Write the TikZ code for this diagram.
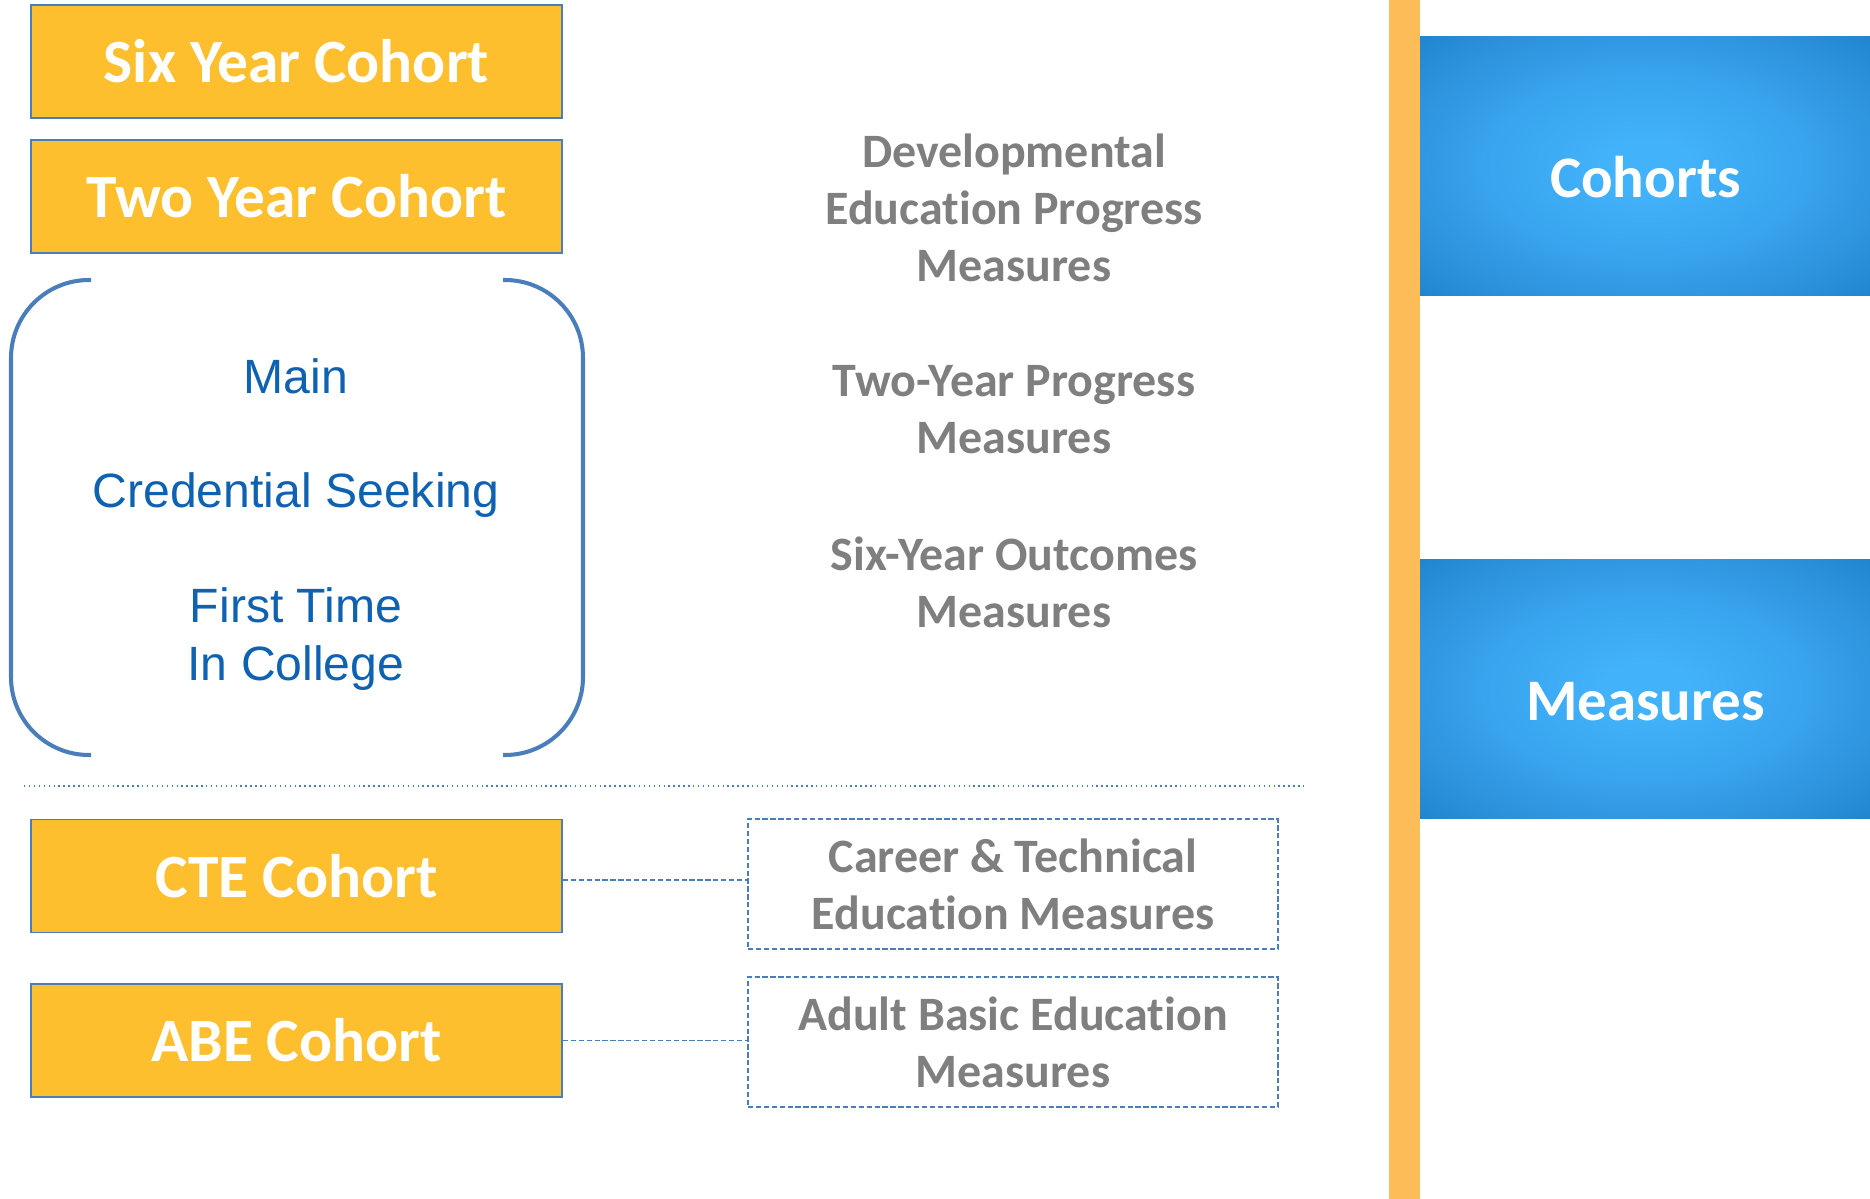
\documentclass[tikz,border=0pt]{standalone}
\usepackage{fontspec}
\setmainfont{Carlito}[Ligatures=NoCommon]
\newfontfamily\arialfont{Liberation Sans}
\definecolor{cohortfill}{HTML}{FDBF2D}
\definecolor{edgeblue}{HTML}{4A7EBB}
\definecolor{bargold}{HTML}{FCBD58}
\definecolor{measgray}{HTML}{7F7F7F}
\definecolor{textblue}{HTML}{0F62B2}
\definecolor{glowin}{HTML}{42B2FA}
\definecolor{glowlit}{HTML}{38A3EE}
\definecolor{glowmid}{HTML}{2A8FD9}
\definecolor{glowrim}{HTML}{1F84CE}
\definecolor{glowout}{HTML}{0A76C0}
\pgfdeclareradialshading{boxglow}{\pgfpoint{0bp}{0bp}}{color(0bp)=(glowin); color(5bp)=(glowin); color(18bp)=(glowlit); color(30bp)=(glowmid); color(36bp)=(glowrim); color(50bp)=(glowout)}

\begin{document}
\begin{tikzpicture}[x=0.02cm, y=-0.02cm,
	cohort/.style={draw=edgeblue, line width=1.1pt, fill=cohortfill, minimum width=10.62cm, minimum height=2.26cm, inner sep=0pt, text=white, font=\bfseries\fontsize{35}{41}\selectfont},
	measure/.style={text=measgray, align=center, font=\bfseries\fontsize{27.3}{32.4}\selectfont},
	measurebox/.style={measure, draw=edgeblue, dash pattern=on 3pt off 1.5pt, line width=0.8pt, minimum width=10.6cm, minimum height=2.6cm, inner sep=0pt},
	group/.style={text=textblue, align=center, font=\arialfont\fontsize{27.4}{33}\selectfont},
	banner/.style={shade, shading=boxglow, minimum width=9.02cm, minimum height=5.2cm, inner sep=0pt, text height=1.28cm, text depth=0pt, text=white, font=\bfseries\fontsize{33.5}{40}\selectfont},
	link/.style={edgeblue, dash pattern=on 3pt off 1.5pt, line width=0.8pt}]
	\useasboundingbox (0,0) rectangle (1870,1199);
	%\draw[help lines] (0,0) grid[step=100] (1870,1199);
	\node[cohort] (six) at (296.5,61.5) {Six Year Cohort};
	\node[cohort] (two) at (296.5,196.5) {Two Year Cohort};
	\node[cohort] (cte) at (296.5,876) {CTE Cohort};
	\node[cohort] (abe) at (296.5,1040.5) {ABE Cohort};
	\draw[edgeblue, line width=2.3pt, rounded corners=1.56cm] (91,280) -- (11,280) -- (11,755) -- (91,755);
	\draw[edgeblue, line width=2.3pt, rounded corners=1.56cm] (503,280) -- (583,280) -- (583,755) -- (503,755);
	\node[group] (main) at (296,376) {Main};
	\node[group] (seek) at (296,495) {Credential Seeking};
	\node[group] (ftic) at (296,639) {First Time\\In College};
	\node[measure] (devm) at (1014,208) {Developmental\\Education Progress\\Measures};
	\node[measure] (twom) at (1014,410) {Two-Year Progress\\Measures};
	\node[measure] (sixm) at (1014,582) {Six-Year Outcomes\\Measures};
	\draw[edgeblue, dotted, line width=0.8pt] (24,786) -- (1306,786);
	\node[measurebox] (ctem) at (1013,884) {Career \& Technical\\Education Measures};
	\node[measurebox] (abem) at (1013,1042) {Adult Basic Education\\Measures};
	\draw[link] ([yshift=-0.08cm]cte.east) -- ([yshift=-0.08cm]cte.east -| ctem.west);
	\draw[link] (abe) -- (abe -| abem.west);
	\fill[bargold] (1389,0) rectangle (1420,1199);
	\node[banner] (cohorts) at (1645.5,166) {Cohorts};
	\node[banner] (measures) at (1645.5,689) {Measures};
\end{tikzpicture}
\end{document}
